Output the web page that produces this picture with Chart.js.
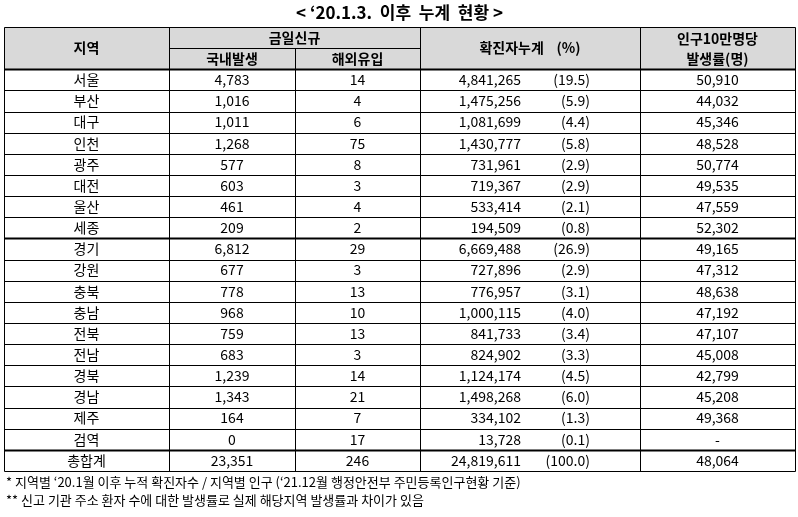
<!DOCTYPE html>
<html><head><meta charset="utf-8">
<script src="https://cdn.jsdelivr.net/npm/chart.js@4"></script>
<style>html,body{margin:0;padding:0;background:#fff}#w{width:798px;height:517px}</style>
</head><body><div id="w"><canvas id="c"></canvas></div>
<script>
const title = "< ‘20.1.3.  이후  누계  현황 >";
const regions = ["서울","부산","대구","인천","광주","대전","울산","세종","경기","강원","충북","충남","전북","전남","경북","경남","제주","검역","총합계"];
const domestic = ["4,783","1,016","1,011","1,268","577","603","461","209","6,812","677","778","968","759","683","1,239","1,343","164","0","23,351"];
const overseas = ["14","4","6","75","8","3","4","2","29","3","13","10","13","3","14","21","7","17","246"];
const cumulative = ["4,841,265","1,475,256","1,081,699","1,430,777","731,961","719,367","533,414","194,509","6,669,488","727,896","776,957","1,000,115","841,733","824,902","1,124,174","1,498,268","334,102","13,728","24,819,611"];
const percent = ["(19.5)","(5.9)","(4.4)","(5.8)","(2.9)","(2.9)","(2.1)","(0.8)","(26.9)","(2.9)","(3.1)","(4.0)","(3.4)","(3.3)","(4.5)","(6.0)","(1.3)","(0.1)","(100.0)"];
const perCapita = ["50,910","44,032","45,346","48,528","50,774","49,535","47,559","52,302","49,165","47,312","48,638","47,192","47,107","45,008","42,799","45,208","49,368","-","48,064"];
const colEdges = [0,165,291,416,636,791];
const notes = ["* 지역별 ‘20.1월 이후 누적 확진자수 / 지역별 인구 (‘21.12월 행정안전부 주민등록인구현황 기준)",
"** 신고 기관 주소 환자 수에 대한 발생률로 실제 해당지역 발생률과 차이가 있음"];

const F = '"Noto Sans CJK KR","Noto Sans",sans-serif';
const tablePlugin = {
  id:'table',
  afterDraw(chart){
    const {ctx, scales:{x,y}, chartArea:a} = chart;
    const X = v=>x.getPixelForValue(v), Y = v=>y.getPixelForValue(v);
    ctx.save();
    ctx.fillStyle='#d9d9d9';
    ctx.fillRect(a.left,Y(0),a.right-a.left,Y(2)-Y(0));
    ctx.strokeStyle='#000';
    const line=(x1,y1,x2,y2,w)=>{ctx.lineWidth=w||1;ctx.beginPath();ctx.moveTo(Math.round(x1)+0.5,Math.round(y1)+0.5);ctx.lineTo(Math.round(x2)+0.5,Math.round(y2)+0.5);ctx.stroke();};
    const total=2+regions.length;
    line(a.left,Y(0),a.right,Y(0));
    line(X(colEdges[1]),Y(1),X(colEdges[3]),Y(1));
    for(let r=2;r<=total;r++){
      const w=(r===2||r===10||r===total-1)?2:1;
      line(a.left,Y(r),a.right,Y(r),w);
    }
    colEdges.forEach((c,i)=>{
      if(i===2){line(X(c),Y(1),X(c),Y(total));}
      else line(X(c),Y(0),X(c),Y(total));
    });
    ctx.fillStyle='#000'; ctx.textBaseline='middle';
    const txt=(s,px,py,al,b)=>{ctx.font=(b?'bold ':'')+'14px '+F;ctx.textAlign=al||'center';ctx.fillText(s,px,py);};
    const cx=i=>(X(colEdges[i])+X(colEdges[i+1]))/2;
    txt('지역',cx(0),Y(1),'center',true);
    txt('금일신규',(X(colEdges[1])+X(colEdges[3]))/2,Y(0.5),'center',true);
    txt('국내발생',cx(1),Y(1.5),'center',true);
    txt('해외유입',cx(2),Y(1.5),'center',true);
    txt('확진자누계    (%)',cx(3),Y(1),'center',true);
    txt('인구10만명당',cx(4),Y(0.55),'center',true);
    txt('발생률(명)',cx(4),Y(1.5),'center',true);
    regions.forEach((r,i)=>{
      const py=Y(2.5+i);
      txt(r,cx(0),py); txt(domestic[i],cx(1),py); txt(overseas[i],cx(2),py);
      txt(cumulative[i],X(colEdges[3])+101,py,'right');
      txt(percent[i],X(colEdges[3])+170,py,'right');
      txt(perCapita[i],cx(4),py);
    });
    ctx.font='bold 17px '+F; ctx.textAlign='center';
    ctx.fillText(title,(a.left+a.right)/2,13);
    ctx.font='13px '+F; ctx.textAlign='left';
    ctx.fillText(notes[0],6,482); ctx.fillText(notes[1],6,500);
    ctx.restore();
  }
};
new Chart(document.getElementById('c'),{
  type:'scatter',
  data:{datasets:[{data:[],showLine:false}]},
  options:{responsive:true,maintainAspectRatio:false,animation:false,
    layout:{padding:{left:4,right:3,top:27,bottom:46}},
    plugins:{legend:{display:false},tooltip:{enabled:false}},
    scales:{x:{type:'linear',min:0,max:791,display:false},
            y:{type:'linear',min:0,max:2+regions.length,reverse:true,display:false}}},
  plugins:[tablePlugin]
});
</script></body></html>
